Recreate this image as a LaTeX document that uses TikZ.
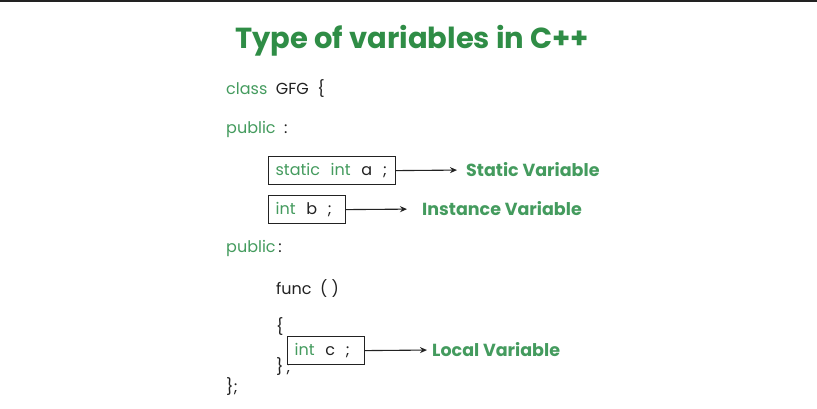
\documentclass[tikz,border=0pt]{standalone}
\usepackage{fontspec}
\setmainfont{Poppins}
\usepackage{xcolor}
\usetikzlibrary{arrows.meta,positioning}

\definecolor{gfgdark}{HTML}{2F8D46}
\definecolor{gfgkey}{HTML}{449B5E}
\definecolor{codeblack}{HTML}{222222}

\newcommand{\kw}[1]{\textcolor{gfgkey}{#1}}

\tikzset{
  title/.style={font=\bfseries\fontsize{29}{34}\selectfont, text=gfgdark, inner sep=0pt},
  code/.style={anchor=west, font=\fontsize{16}{19}\selectfont, text=codeblack, inner sep=0pt},
  varbox/.style={draw=codeblack, line width=1.2pt, fill=white, anchor=north west,
    minimum height=28pt, inner xsep=7pt, inner ysep=0pt, align=left,
    font=\fontsize{16}{19}\selectfont, text=codeblack},
  kind/.style={anchor=west, font=\bfseries\fontsize{17.5}{21}\selectfont, text=gfgkey, inner sep=0pt},
  pointer/.style={-{Stealth[length=7pt,width=6pt]}, line width=1.1pt, draw=codeblack},
}

\begin{document}
\begin{tikzpicture}[x=1pt,y=-1pt]
    \useasboundingbox (0,0) rectangle (817,408);
    \draw[line width=2pt, codeblack] (0,1) -- (817,1);
    \node[title] (head) at (412,41) {Type of variables in C++};

    % class body
    \node[code] (cls) at (226,89) {\kw{class}\ \ GFG \ \{};
    \node[code] (pub1) at (226,129) {\kw{public}\ \ :};
    \node[varbox, text width=113pt] (boxa) at (268,156) {\kw{static}\ \ \kw{int}\ \ a \ ;};
    \node[varbox, text width=63pt] (boxb) at (268,195) {\kw{int}\ \ b \ ;};
    \node[kind] (statv) at (466,170) {Static Variable};
    \node[kind] (instv) at (422,209) {Instance Variable};
    \draw[pointer, shorten >=9pt] (boxa.east) -- (statv.west);
    \draw[pointer, shorten >=15pt] (boxb.east) -- (instv.west);

    % member function
    \node[code] (pub2) at (226,248) {\kw{public}\,:};
    \node[code] (fn) at (276,289) {func\ \ ( )};
    \node[code] (open) at (276,327) {\{};
    \node[code] (close) at (276,367) {\}\,;};
    \node[varbox, text width=63pt] (boxc) at (287,336) {\kw{int}\ \ c \ ;};
    \node[kind] (locv) at (432,350) {Local Variable};
    \draw[pointer, shorten >=5pt] (boxc.east) -- (locv.west);

    \node[code] (endcls) at (226,387) {\};};
\end{tikzpicture}
\end{document}
